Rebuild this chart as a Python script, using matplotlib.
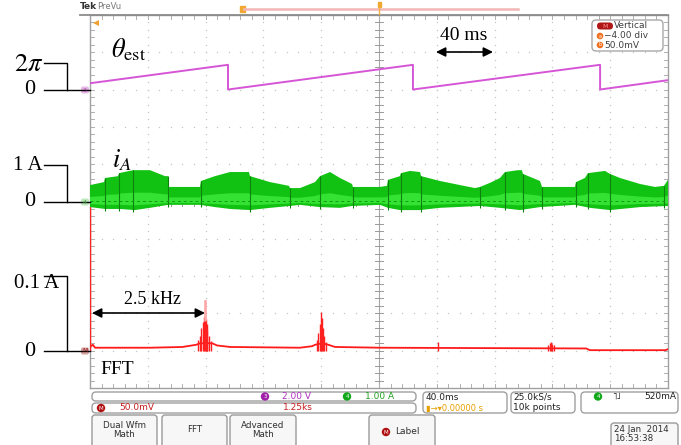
import numpy as np
import matplotlib
matplotlib.use('Agg')
import matplotlib.pyplot as plt
from matplotlib.patches import FancyBboxPatch, Circle, Rectangle

plt.rcParams['mathtext.fontset'] = 'stix'

# ---------------- data ----------------
# estimated rotor angle, time in ms, angle in rad
theta_t = [0, 95.5, 95.5, 223.5, 223.5, 353.0, 353.0, 400]
theta_v = [1.55, 6.05, 0.02, 6.05, 0.02, 6.05, 0.02, 2.3]

# phase current i_A: upper / lower envelope of the PWM ripple band (ms, A)
ia_up_t = [0, 9.7, 10.4, 19.4, 20.1, 29.8, 41.5, 51.9, 54.0, 54.7,
           76.1, 76.8, 86.5, 96.9, 110.0, 110.7, 124.6, 137.7, 138.4, 145.3,
           155.7, 159.2, 166.1, 173.0, 181.3, 182.0, 200.7, 205.5, 206.2, 214.5,
           215.2, 221.4, 228.4, 229.1, 242.2, 256.1, 266.4, 269.9, 276.8, 283.7,
           287.2, 296.2, 298.9, 299.6, 311.4, 312.8, 335.6, 336.3, 342.5, 344.6,
           356.4, 359.8, 366.8, 380.6, 391.0, 397.2, 400]
ia_up = [0.44, 0.52, 0.63, 0.68, 0.76, 0.84, 0.84, 0.68, 0.68, 0.39,
         0.39, 0.55, 0.68, 0.79, 0.79, 0.68, 0.52, 0.42, 0.36, 0.36,
         0.52, 0.68, 0.79, 0.63, 0.47, 0.39, 0.39, 0.42, 0.58, 0.68,
         0.76, 0.82, 0.79, 0.68, 0.55, 0.44, 0.36, 0.39, 0.50, 0.63,
         0.79, 0.84, 0.84, 0.74, 0.55, 0.39, 0.39, 0.52, 0.63, 0.76,
         0.82, 0.74, 0.63, 0.47, 0.39, 0.42, 0.58]
ia_lo_t = [0, 10.4, 20.8, 31.1, 41.5, 54.0, 76.1, 86.5, 96.9, 110.7,
           124.6, 138.4, 145.3, 159.2, 173.0, 181.3, 200.7, 206.2, 214.5, 228.4,
           242.2, 269.9, 283.7, 297.6, 311.4, 335.6, 346.0, 359.8, 380.6, 400]
ia_lo = [-0.15, -0.20, -0.20, -0.23, -0.17, -0.09, -0.09, -0.15, -0.20, -0.23,
         -0.17, -0.12, -0.09, -0.15, -0.17, -0.12, -0.09, -0.17, -0.23, -0.23,
         -0.17, -0.12, -0.17, -0.23, -0.15, -0.09, -0.17, -0.23, -0.15, -0.12]
ia_edge_t = [10.4, 20.1, 29.8, 54.0, 76.8, 110.7, 138.4, 159.2, 182.0, 206.2,
             215.2, 229.1, 269.9, 287.2, 299.6, 312.8, 336.3, 344.6, 359.8, 397.2]

# FFT of i_A: background floor (kHz, A) and spectral lines (kHz, A)
fft_floor_f = [0.02, 0.06, 0.11, 1.30, 2.00, 2.30, 2.38, 2.64, 2.75, 3.03,
               4.54, 4.80, 4.87, 5.02, 5.15, 5.30, 6.27, 10.73, 10.81, 12.44, 12.5]
fft_floor_a = [0.006, 0.008, 0.004, 0.004, 0.005, 0.008, 0.010, 0.010, 0.007, 0.005,
               0.004, 0.006, 0.008, 0.010, 0.008, 0.005, 0.004, 0.003, 0.0007, 0.0007, 0.002]
fft_line_f = [0.01,
              2.34, 2.38, 2.41, 2.44, 2.46, 2.48, 2.50, 2.52, 2.54, 2.57, 2.61,
              4.90, 4.94, 4.97, 5.00, 5.02, 5.04, 5.07, 5.11,
              7.53, 9.91, 9.94, 9.97, 10.00, 10.03]
fft_line_a = [0.20,
              0.014, 0.020, 0.030, 0.038, 0.045, 0.068, 0.042, 0.036, 0.028, 0.020, 0.013,
              0.014, 0.024, 0.036, 0.052, 0.044, 0.030, 0.020, 0.012,
              0.012, 0.007, 0.010, 0.011, 0.009, 0.007]

# scope settings
T_DIV = 40.0        # ms / div
F_DIV = 1.25        # kHz / div
I_DIV = 1.0         # A / div
FFT_DIV = 0.05      # A / div
THETA_DIV = 0.69 / (2 * np.pi)   # div / rad
THETA_POS, IA_POS, FFT_POS = 8.0, 5.0, 1.0

W, H = 681, 445
fig = plt.figure(figsize=(W / 100, H / 100), dpi=100)
fig.patch.set_facecolor('white')

L, R, T, B = 90, 668, 15, 388
ax = fig.add_axes([L / W, 1 - B / H, (R - L) / W, (B - T) / H])
ax.set_xlim(0, 10)
ax.set_ylim(0, 10)
ax.set_xticks([])
ax.set_yticks([])
for s in ax.spines.values():
    s.set_color('#a0a0a0')
    s.set_linewidth(1.0)

# dotted graticule
dots = np.arange(0, 10.001, 0.2)
for k in range(1, 10):
    ax.plot(np.full_like(dots, k), dots, ls='none', marker='s', ms=0.9,
            color='#c4c4c4', mew=0)
    ax.plot(dots, np.full_like(dots, k), ls='none', marker='s', ms=0.9,
            color='#c4c4c4', mew=0)
# centre cross with minor ticks
ax.plot([5, 5], [0, 10], color='#a8a8a8', lw=0.8)
ax.plot([0, 10], [5, 5], color='#a8a8a8', lw=0.8)
for d in dots:
    ax.plot([4.93, 5.07], [d, d], color='#9a9a9a', lw=0.7)
    ax.plot([d, d], [4.88, 5.12], color='#9a9a9a', lw=0.7)
    ax.plot([9.93, 10], [d, d], color='#b0b0b0', lw=0.7)
    ax.plot([0, 0.07], [d, d], color='#b0b0b0', lw=0.7)
    ax.plot([d, d], [9.88, 10], color='#b0b0b0', lw=0.7)
    ax.plot([d, d], [0, 0.12], color='#b0b0b0', lw=0.7)

# FFT trace
fx = np.array(fft_floor_f) / F_DIV
fy = FFT_POS + np.array(fft_floor_a) / FFT_DIV
ax.plot(fx, fy, color='#ff1a1a', lw=1.3, zorder=3)
lx = np.array(fft_line_f) / F_DIV
ly = FFT_POS + np.array(fft_line_a) / FFT_DIV
ax.vlines(lx, FFT_POS, ly, color='#ff2020', lw=1.0, zorder=3)
imax = int(np.argmax(np.where(lx > 0.5, ly, 0)))
ax.vlines(lx[imax], FFT_POS + 0.04 / FFT_DIV, ly[imax], color='#ffaaaa', lw=1.8, zorder=3)

# i_A band
ut = np.array(ia_up_t) / T_DIV
uy = IA_POS + np.array(ia_up) / I_DIV
lt = np.array(ia_lo_t) / T_DIV
lyy = IA_POS + np.array(ia_lo) / I_DIV
ax.fill(np.r_[ut, lt[::-1]], np.r_[uy, lyy[::-1]], color='#12c212', lw=0, zorder=4)
ax.fill(np.r_[ut, lt[::-1]],
        np.r_[IA_POS + 0.28 * np.array(ia_up), IA_POS + 0.45 * np.array(ia_lo)[::-1]],
        color='#34e234', lw=0, zorder=4)
et = np.array(ia_edge_t) / T_DIV
ax.vlines(et, np.interp(et, lt, lyy) - 0.05, np.interp(et, ut, uy),
          color='#0d800d', lw=0.8, zorder=5)
ax.plot([0, 10], [IA_POS, IA_POS], color='#0f9a0f', lw=0.7, ls=(0, (3, 3)), zorder=5)

# theta trace
ax.plot(np.array(theta_t) / T_DIV, THETA_POS + np.array(theta_v) * THETA_DIV,
        color='#d655d6', lw=1.4, zorder=6)

# ---------------- overlay in pixel coordinates ----------------
ov = fig.add_axes([0, 0, 1, 1], zorder=10)
ov.set_xlim(0, W)
ov.set_ylim(H, 0)
ov.axis('off')
ov.patch.set_alpha(0)

serif = 'Liberation Serif'
sans = 'DejaVu Sans'

# top bar
ov.plot([80, R], [14.5, 14.5], color='#8c8c8c', lw=1.3)
ov.text(80, 11, 'Tek', fontsize=6.5, fontweight='bold', color='#333333', family=sans, va='bottom')
ov.text(97, 11, 'PreVu', fontsize=6, color='#777777', family=sans, va='bottom')
ov.plot([244, 518], [9, 9], color='#f2b6b6', lw=1.8)
ov.add_patch(Rectangle((240, 6), 4.5, 6, color='#f0a830'))
ov.add_patch(Rectangle((377.5, 2), 3.5, 5, color='#f0a830'))
ov.plot([379.2, 379.2], [7, 14], color='#f0b040', lw=1)
ov.plot([96], [23], marker='<', ms=5, color='#f0a030', mew=0)

# channel markers at left edge
def chan_marker(y, face, txt, tc):
    ov.add_patch(FancyBboxPatch((81, y - 3.5), 8, 7, boxstyle='round,pad=0,rounding_size=2',
                                fc=face, ec='none'))
    ov.text(85, y, txt, fontsize=4.5, color=tc, ha='center', va='center', family=sans)
chan_marker(90, '#e6b8e6', '3', '#a040a0')
chan_marker(202, '#bfe8bf', '4', '#40a040')
chan_marker(351, '#d8a0a0', 'M', '#902020')

# scale brackets
for ytop, y0 in [(63, 90), (165, 202), (276, 351)]:
    ov.plot([44, 67, 67], [ytop, ytop, y0], color='black', lw=1.0)
    ov.plot([44, 90], [y0, y0], color='black', lw=1.0)
    ov.text(30, y0, '0', fontsize=16, family=serif, ha='center', va='center')
ov.text(43, 64, r'$2\pi$', fontsize=19, ha='right', va='center')
ov.text(43, 166, '1 A', fontsize=15, family=serif, ha='right', va='center')
ov.text(37, 284, '0.1 A', fontsize=15, family=serif, ha='center', va='center')

# trace labels
ov.text(111, 50, r'$\theta_{\mathrm{est}}$', fontsize=19, ha='left', va='center')
ov.text(112, 160, r'$i_A$', fontsize=19, ha='left', va='center')
ov.text(100, 369, 'FFT', fontsize=14, family=serif, ha='left', va='center')

# measurement arrows
ov.annotate('', xy=(92, 313), xytext=(205, 313),
            arrowprops=dict(arrowstyle='<|-|>', color='black', lw=1.2, mutation_scale=14,
                            shrinkA=0, shrinkB=0))
ov.text(152, 299, '2.5 kHz', fontsize=13, family=serif, ha='center', va='center')
ov.annotate('', xy=(436, 52), xytext=(493, 52),
            arrowprops=dict(arrowstyle='<|-|>', color='black', lw=1.2, mutation_scale=14,
                            shrinkA=0, shrinkB=0))
ov.text(464, 36, '40 ms', fontsize=14, family=serif, ha='center', va='center')

# "Vertical" readout box
ov.add_patch(FancyBboxPatch((592, 20), 71, 31, boxstyle='round,pad=0,rounding_size=4',
                            fc='white', ec='#a8a8a8', lw=1))
ov.add_patch(FancyBboxPatch((597, 22.5), 16, 7, boxstyle='round,pad=0,rounding_size=3.5',
                            fc='#b01818', ec='none'))
ov.text(605, 26, 'M', fontsize=4.5, color='#ff9090', ha='center', va='center', family=sans)
ov.text(614, 26, 'Vertical', fontsize=6.5, color='#404040', ha='left', va='center', family=sans)
for yy, txt, lab in [(36, '\u22124.00 div', 'a'), (45, '50.0mV', 'b')]:
    ov.add_patch(Circle((600, yy), 3.3, fc='#f07020', ec='none'))
    ov.text(600, yy, lab, fontsize=3.5, color='white', ha='center', va='center', family=sans)
    ov.text(604, yy, txt, fontsize=6.5, color='#404040', ha='left', va='center', family=sans)

# bottom info panel
def rbox(x0, y0, x1, y1, r=4, fc='white', ec='#a0a0a0'):
    ov.add_patch(FancyBboxPatch((x0, y0), x1 - x0, y1 - y0,
                                boxstyle=f'round,pad=0,rounding_size={r}',
                                fc=fc, ec=ec, lw=1))

rbox(92, 392, 416, 401)
rbox(92, 403, 416, 413)
rbox(423, 392, 507, 413)
rbox(511, 392, 575, 413)
rbox(581, 392, 678, 413)

def badge(x, y, col, txt):
    ov.add_patch(Circle((x, y), 4.2, fc=col, ec='none'))
    ov.text(x, y, txt, fontsize=4, color='white', ha='center', va='center', family=sans)

badge(265, 396.5, '#a020a8', '3')
ov.text(282, 396.5, '2.00 V', fontsize=6.5, color='#b030c0', va='center', family=sans)
badge(347, 396.5, '#10a818', '4')
ov.text(365, 396.5, '1.00 A', fontsize=6.5, color='#20a020', va='center', family=sans)
badge(101, 408, '#b01010', 'M')
ov.text(119, 408, '50.0mV', fontsize=6.5, color='#c82020', va='center', family=sans)
ov.text(283, 408, '1.25ks', fontsize=6.5, color='#c82020', va='center', family=sans)
ov.text(426, 397, '40.0ms', fontsize=6.5, color='#202020', va='center', family=sans)
ov.text(426, 408, '\u25AE\u2192\u25BE0.00000 s', fontsize=6, color='#e8a000', va='center', family=sans)
ov.text(513, 397, '25.0kS/s', fontsize=6.5, color='#202020', va='center', family=sans)
ov.text(513, 408, '10k points', fontsize=6.5, color='#202020', va='center', family=sans)
badge(598, 396.5, '#10a818', '4')
ov.text(612, 396.5, '\u02E5\u02E9', fontsize=6.5, color='#202020', va='center', family=sans)
ov.text(676, 396.5, '520mA', fontsize=6.5, color='#202020', va='center', ha='right', family=sans)

# soft-key buttons
for x0, x1, txt in [(92, 157, 'Dual Wfm\nMath'), (162, 227, 'FFT'),
                    (230, 296, 'Advanced\nMath')]:
    rbox(x0, 415, x1, 450, r=3, fc='#f7f7f7', ec='#9a9a9a')
    ov.text((x0 + x1) / 2, 430, txt, fontsize=6.3, color='#303030', ha='center',
            va='center', family=sans, linespacing=1.1)
rbox(369, 415, 435, 450, r=3, fc='#f7f7f7', ec='#9a9a9a')
badge(386, 432, '#b01010', 'M')
ov.text(395, 432, 'Label', fontsize=6.5, color='#303030', va='center', family=sans)
rbox(611, 423, 678, 450, r=3, fc='#f7f7f7', ec='#9a9a9a')
ov.text(614, 434, '24 Jan  2014\n16:53:38', fontsize=6.3, color='#303030', va='center',
        family=sans, linespacing=1.1)

fig.savefig('out.png', dpi=100, facecolor='white')
